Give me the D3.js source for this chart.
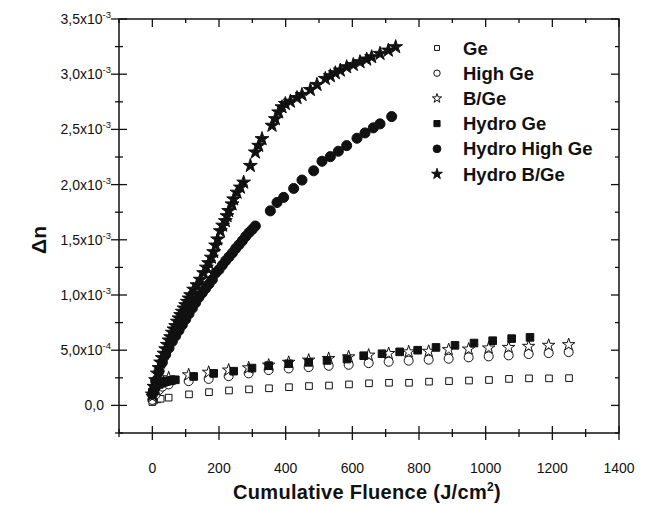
<!DOCTYPE html>
<html>
<head>
<meta charset="utf-8">
<script src="https://cdn.jsdelivr.net/npm/d3@7"></script>
<style>
  body { margin: 0; background: #fff; }
  text { font-family: "Liberation Sans", Arial, sans-serif; fill: #111; }
</style>
</head>
<body>
<script>
// ---- data (fluence in J/cm2, delta n in units of 1e-3) ----
const geX = [0, 5, 15, 25, 49, 110, 170, 230, 290, 350, 410, 470, 530, 590, 650, 710, 770, 830, 890, 950, 1010, 1070, 1130, 1190, 1250];
const geY = [0.03, 0.045, 0.055, 0.06, 0.07, 0.1, 0.12, 0.135, 0.145, 0.155, 0.165, 0.175, 0.18, 0.19, 0.2, 0.205, 0.205, 0.215, 0.22, 0.225, 0.23, 0.24, 0.245, 0.245, 0.247];

const highGeX = [0, 10, 20, 30, 49, 109, 169, 229, 289, 349, 409, 469, 529, 589, 649, 709, 769, 829, 889, 949, 1009, 1069, 1129, 1189, 1249];
const highGeY = [0.05, 0.1, 0.14, 0.17, 0.19, 0.22, 0.24, 0.265, 0.29, 0.32, 0.335, 0.347, 0.359, 0.368, 0.383, 0.395, 0.405, 0.414, 0.423, 0.435, 0.444, 0.453, 0.465, 0.474, 0.483];

const bgeX = [0, 10, 20, 30, 49, 109, 169, 229, 289, 349, 409, 469, 529, 589, 649, 709, 769, 829, 889, 949, 1009, 1069, 1129, 1189, 1249];
const bgeY = [0.08, 0.15, 0.2, 0.23, 0.25, 0.277, 0.3, 0.32, 0.34, 0.365, 0.39, 0.41, 0.425, 0.44, 0.455, 0.47, 0.485, 0.49, 0.505, 0.51, 0.52, 0.525, 0.535, 0.544, 0.55];

const hydroGeX = [0, 5, 10, 15, 20, 25, 30, 35, 40, 45, 50, 55, 60, 69, 124, 184, 244, 299, 349, 409, 469, 524, 584, 634, 689, 742, 796, 851, 908, 965, 1021, 1078, 1133];
const hydroGeY = [0.12, 0.15, 0.17, 0.185, 0.195, 0.2, 0.205, 0.21, 0.215, 0.22, 0.222, 0.225, 0.228, 0.232, 0.262, 0.29, 0.31, 0.338, 0.36, 0.377, 0.39, 0.407, 0.42, 0.45, 0.468, 0.485, 0.5, 0.525, 0.544, 0.565, 0.586, 0.605, 0.616];

const hydroHighGeX = [0, 10, 20, 30, 40, 50, 60, 70, 80, 90, 100, 110, 120, 130, 140, 150, 160, 170, 180, 190, 200, 210, 220, 230, 240, 250, 260, 270, 280, 290, 300, 309, 354, 374, 394, 424, 449, 484, 509, 534, 558, 583, 614, 638, 663, 683, 718];
const hydroHighGeY = [0.1, 0.22, 0.31, 0.39, 0.46, 0.52, 0.58, 0.63, 0.68, 0.73, 0.78, 0.83, 0.88, 0.93, 0.98, 1.02, 1.06, 1.1, 1.14, 1.2, 1.23, 1.27, 1.31, 1.345, 1.38, 1.42, 1.455, 1.49, 1.53, 1.565, 1.595, 1.625, 1.762, 1.838, 1.884, 1.965, 2.041, 2.125, 2.211, 2.253, 2.302, 2.353, 2.42, 2.468, 2.514, 2.55, 2.616];

const hydroBGeX = [0, 5, 10, 15, 20, 25, 30, 35, 40, 45, 50, 55, 60, 65, 70, 75, 80, 85, 90, 95, 100, 105, 110, 115, 124, 134, 144, 154, 162, 169, 177, 184, 190, 196, 204, 211, 219, 224, 229, 239, 244, 254, 264, 274, 294, 309, 319, 329, 359, 369, 379, 389, 399, 414, 434, 449, 474, 494, 519, 534, 549, 564, 583, 603, 623, 643, 658, 683, 708, 730];
const hydroBGeY = [0.1, 0.17, 0.23, 0.29, 0.34, 0.39, 0.43, 0.47, 0.51, 0.55, 0.59, 0.62, 0.66, 0.69, 0.72, 0.76, 0.79, 0.82, 0.85, 0.88, 0.91, 0.94, 0.97, 1.0, 1.05, 1.09, 1.14, 1.2, 1.25, 1.29, 1.34, 1.39, 1.45, 1.505, 1.58, 1.63, 1.671, 1.716, 1.762, 1.823, 1.868, 1.929, 1.975, 2.02, 2.171, 2.293, 2.353, 2.414, 2.535, 2.595, 2.656, 2.702, 2.732, 2.753, 2.786, 2.814, 2.859, 2.905, 2.959, 2.984, 3.011, 3.035, 3.065, 3.086, 3.111, 3.135, 3.156, 3.186, 3.216, 3.247];

const seriesNames = ["Ge", "High Ge", "B/Ge", "Hydro Ge", "Hydro High Ge", "Hydro B/Ge"];

const xTicks = [0, 200, 400, 600, 800, 1000, 1200, 1400];
const yTicks = [0, 0.5, 1.0, 1.5, 2.0, 2.5, 3.0, 3.5];
const yTickMantissa = ["0,0", "5,0x10", "1,0x10", "1,5x10", "2,0x10", "2,5x10", "3,0x10", "3,5x10"];
const yTickExponent = ["", "-4", "-3", "-3", "-3", "-3", "-3", "-3"];

// ---- layout ----
const width = 652, height = 506;
const plotL = 119, plotR = 619, plotT = 19, plotB = 433;

const x = d3.scaleLinear().domain([-100, 1400]).range([plotL, plotR]);
const y = d3.scaleLinear().domain([-0.25, 3.5]).range([plotB, plotT]);

const svg = d3.select("body").append("svg")
  .attr("width", width)
  .attr("height", height);

// frame
svg.append("rect")
  .attr("x", plotL).attr("y", plotT)
  .attr("width", plotR - plotL).attr("height", plotB - plotT)
  .attr("fill", "none").attr("stroke", "#111").attr("stroke-width", 1.5);

const xMinor = d3.range(-100, 1401, 100).filter(v => v % 200 !== 0);
const yMinor = d3.range(-0.25, 3.5, 0.5);

// bottom axis: ticks cross the line
const gx = svg.append("g").attr("stroke", "#111").attr("stroke-width", 1.3);
xTicks.forEach(v => gx.append("line").attr("x1", x(v)).attr("x2", x(v)).attr("y1", plotB - 7).attr("y2", plotB + 7));
xMinor.forEach(v => gx.append("line").attr("x1", x(v)).attr("x2", x(v)).attr("y1", plotB - 4).attr("y2", plotB + 4));
// top axis: inward ticks
xTicks.forEach(v => gx.append("line").attr("x1", x(v)).attr("x2", x(v)).attr("y1", plotT).attr("y2", plotT + 8));
xMinor.forEach(v => gx.append("line").attr("x1", x(v)).attr("x2", x(v)).attr("y1", plotT).attr("y2", plotT + 4));
// left axis: ticks cross
yTicks.forEach(v => gx.append("line").attr("y1", y(v)).attr("y2", y(v)).attr("x1", plotL - 8).attr("x2", plotL + 8));
yMinor.forEach(v => gx.append("line").attr("y1", y(v)).attr("y2", y(v)).attr("x1", plotL - 4).attr("x2", plotL + 4));
// right axis: inward ticks
yTicks.forEach(v => gx.append("line").attr("y1", y(v)).attr("y2", y(v)).attr("x1", plotR - 8).attr("x2", plotR));
yMinor.forEach(v => gx.append("line").attr("y1", y(v)).attr("y2", y(v)).attr("x1", plotR - 4).attr("x2", plotR));

// tick labels
svg.selectAll(".xlab").data(xTicks).enter().append("text")
  .attr("x", d => x(d)).attr("y", 473)
  .attr("text-anchor", "middle")
  .style("font-size", "14px")
  .text(d => d);

const ylab = svg.selectAll(".ylab").data(yTicks).enter().append("text")
  .attr("x", (d, i) => yTickExponent[i] ? 111 : 104).attr("y", d => y(d) + 5)
  .attr("text-anchor", "end")
  .style("font-size", "14px");
ylab.append("tspan").text((d, i) => yTickMantissa[i]);
ylab.append("tspan")
  .attr("dy", -6)
  .style("font-size", "9.5px")
  .text((d, i) => yTickExponent[i]);

// axis titles
const xt = svg.append("text")
  .attr("x", 367).attr("y", 499)
  .attr("text-anchor", "middle")
  .style("font-size", "20px").style("font-weight", "bold")
  .style("letter-spacing", "0.3px");
xt.append("tspan").text("Cumulative Fluence (J/cm");
xt.append("tspan").attr("dy", -8).style("font-size", "12px").text("2");
xt.append("tspan").attr("dy", 8).text(")");

svg.append("text")
  .attr("transform", "translate(46,240) rotate(-90)")
  .attr("text-anchor", "middle")
  .style("font-size", "21px").style("font-weight", "bold")
  .text("Δn");

// ---- markers ----
const styles = [
  { type: d3.symbolSquare, size: 44, fill: "#fff" },
  { type: d3.symbolCircle, size: 64, fill: "#fff" },
  { type: d3.symbolStar, size: 48, fill: "#fff" },
  { type: d3.symbolSquare, size: 58, fill: "#111" },
  { type: d3.symbolCircle, size: 80, fill: "#111" },
  { type: d3.symbolStar, size: 60, fill: "#111" }
];
const seriesX = [geX, highGeX, bgeX, hydroGeX, hydroHighGeX, hydroBGeX];
const seriesY = [geY, highGeY, bgeY, hydroGeY, hydroHighGeY, hydroBGeY];

seriesX.forEach((xs, s) => {
  const pts = xs.map((v, i) => [v, seriesY[s][i]]);
  const st = styles[s];
  svg.append("g").selectAll("path").data(pts).enter().append("path")
    .attr("transform", d => `translate(${x(d[0])},${y(d[1])})`)
    .attr("d", d3.symbol().type(st.type).size(st.size))
    .attr("fill", st.fill)
    .attr("stroke", "#111")
    .attr("stroke-width", 1);
});

// ---- legend ----
const legendScale = [0.55, 0.5, 0.55, 0.65, 0.6, 0.6];
const lg = svg.append("g");
seriesNames.forEach((name, i) => {
  const yy = 48 + i * 25.2;
  const st = styles[i];
  lg.append("path")
    .attr("transform", `translate(437,${yy})`)
    .attr("d", d3.symbol().type(st.type).size(st.size * legendScale[i]))
    .attr("fill", st.fill).attr("stroke", "#111").attr("stroke-width", 1);
  lg.append("text")
    .attr("x", 463).attr("y", yy + 6.5)
    .style("font-size", "18.5px").style("font-weight", "bold")
    .text(name);
});
</script>
</body>
</html>
